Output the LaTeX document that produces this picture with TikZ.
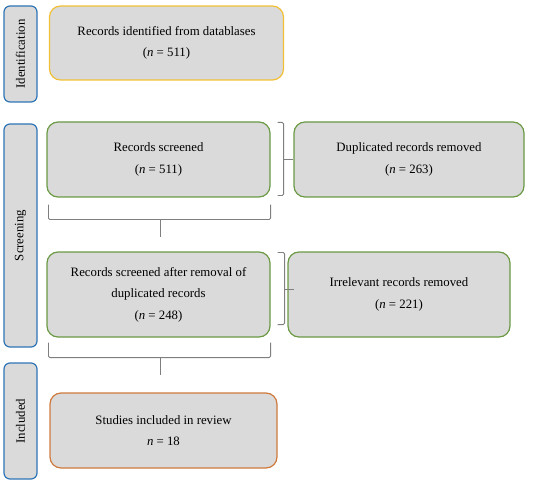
\documentclass[tikz,border=0pt]{standalone}
\usepackage{fontspec}
\setmainfont{Liberation Serif}
\usetikzlibrary{calc}
\definecolor{prSide}{HTML}{2E75B6}
\definecolor{prYellow}{HTML}{F2C037}
\definecolor{prGreen}{HTML}{6B9A45}
\definecolor{prOrange}{HTML}{CF7A3C}
\definecolor{prFill}{HTML}{DADADA}
\definecolor{prBrace}{HTML}{7F7F7F}

\begin{document}
\begin{tikzpicture}[
    x=1pt, y=-1pt,
    line width=1.2pt,
    every node/.style={font=\fontsize{12.8}{21.5}\selectfont, inner sep=0pt},
    sidebox/.style={draw=prSide, fill=prFill, rounded corners=6pt,
      minimum width=33pt, align=center},
    mainbox/.style={fill=prFill, rounded corners=11pt, align=center},
    grp/.style={draw=prBrace, line width=0.8pt, rounded corners=1.5pt},
  ]
  \useasboundingbox (0,0) rectangle (550,487);

  % Phase labels on the left
  \node[sidebox, minimum height=96pt] (idlab) at (20.5,54) {};
  \node[rotate=90] at (idlab) {Identification};
  \node[sidebox, minimum height=223pt] (scrlab) at (20.5,235.5) {};
  \node[rotate=90] at (scrlab) {Screening};
  \node[sidebox, minimum height=116pt] (inclab) at (20.5,421) {};
  \node[rotate=90] at (inclab) {Included};

  % Identification
  \node[mainbox, draw=prYellow, minimum width=234pt, minimum height=74pt]
    (ident) at (166.5,43) {Records identified from datablases\\(\textit{n} = 511)};

  % Screening
  \node[mainbox, draw=prGreen, minimum width=223pt, minimum height=75pt]
    (screened) at (158.5,159.5) {Records screened\\(\textit{n} = 511)};
  \node[mainbox, draw=prGreen, minimum width=230pt, minimum height=75pt]
    (dupl) at (409,159.5) {Duplicated records removed\\(\textit{n} = 263)};
  \node[mainbox, draw=prGreen, minimum width=223pt, minimum height=85pt]
    (afterdup) at (158.5,294.5) {Records screened after removal of\\duplicated records\\(\textit{n} = 248)};
  \node[mainbox, draw=prGreen, minimum width=222pt, minimum height=85pt]
    (irrel) at (399,294.5) {Irrelevant records removed\\(\textit{n} = 221)};

  % Included
  \node[mainbox, draw=prOrange, minimum width=227pt, minimum height=75pt]
    (incl) at (163.5,430.5) {Studies included in review\\\textit{n} = 18};

  % Brackets: records screened -> duplicates removed
  \draw[grp] ($(screened.north east)+(7,1)$) -- ++(6,0) -- ($(screened.south east)+(13,-2)$) -- ++(-6,0);
  \draw[grp] ($(screened.east)+(13,0)$) -- (dupl.west);
  \draw[grp] ($(screened.south west)+(2,7)$) -- ++(0,15) -| ($(screened.south east)+(0,7)$);
  \draw[grp] ($(screened.south)+(1.5,22)$) -- ($(afterdup.north)+(1.5,-14)$);

  % Brackets: screened after removal -> irrelevant removed
  \draw[grp] ($(afterdup.north east)+(7,1)$) -- ++(7,0) -- ($(afterdup.south east)+(14,-13)$) -- ++(-7,0);
  \draw[grp] ($(afterdup.east)+(14,-5.5)$) -- ($(irrel.west)+(7,-5.5)$);
  \draw[grp] ($(afterdup.south west)+(2,5)$) -- ++(0,15) -| ($(afterdup.south east)+(0,5)$);
  \draw[grp] ($(afterdup.south)+(1.5,20)$) -- ($(incl.north)+(-3.5,-17)$);
\end{tikzpicture}
\end{document}
